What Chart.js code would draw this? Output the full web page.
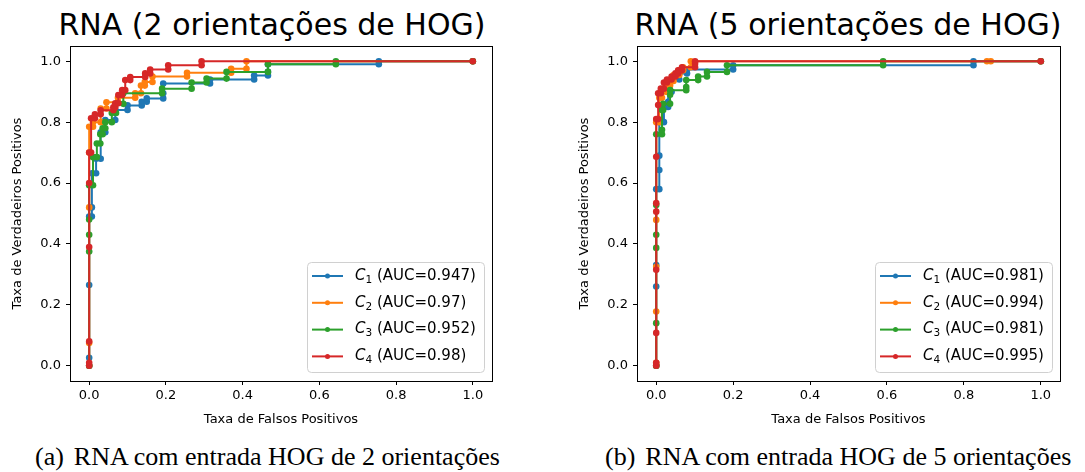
<!DOCTYPE html>
<html>
<head>
<meta charset="utf-8">
<script src="https://cdn.jsdelivr.net/npm/chart.js@4.4.0/dist/chart.umd.min.js"></script>
<style>
  body { margin: 0; background: #fff; width: 1085px; height: 472px; overflow: hidden; position: relative; }
  .box { position: absolute; top: 0; height: 430px; }
  .title { position: absolute; top: 10px; font: 30px/1 "DejaVu Sans"; color: #000; white-space: nowrap; transform: translateX(-50%); }
  .cap { position: absolute; top: 444px; font: 26px/1 "Liberation Serif"; color: #000; white-space: nowrap; }
  .cap span { margin-right: 10px; }
</style>
</head>
<body>
<div class="title" style="left:272px">RNA (2 orientações de HOG)</div>
<div class="title" style="left:848px">RNA (5 orientações de HOG)</div>
<div class="box" style="left:0;width:540px"><canvas id="chartA"></canvas></div>
<div class="box" style="left:567px;width:518px"><canvas id="chartB"></canvas></div>
<div class="cap" style="left:35px"><span>(a)</span>RNA com entrada HOG de 2 orientações</div>
<div class="cap" style="left:605px"><span>(b)</span>RNA com entrada HOG de 5 orientações</div>
<script>
// Class labels, colours and axis ticks
const classDigits = ['1', '2', '3', '4'];
const colors = ['#1f77b4', '#ff7f0e', '#2ca02c', '#d62728'];
const tickValues = [0.0, 0.2, 0.4, 0.6, 0.8, 1.0];

// (a) 2 orientations
const aucA = ['0.947', '0.97', '0.952', '0.98'];
const fprA1 = [0,0,0,0,0.007,0.007,0.007,0.018,0.018,0.03,0.03,0.042,0.042,0.068,0.068,0.1,0.1,0.137,0.137,0.15,0.15,0.193,0.193,0.193,0.315,0.315,0.43,0.43,0.466,0.466,0.466,0.755,0.755,1];
const tprA1 = [0,0.026,0.265,0.49,0.49,0.52,0.632,0.632,0.68,0.68,0.767,0.767,0.807,0.807,0.84,0.84,0.855,0.855,0.867,0.867,0.878,0.878,0.895,0.927,0.927,0.94,0.94,0.953,0.953,0.965,0.99,0.99,1,1];
const fprA2 = [0,0,0,0,0,0.01,0.01,0.03,0.03,0.045,0.045,0.075,0.075,0.12,0.12,0.135,0.135,0.145,0.145,0.165,0.165,0.255,0.255,0.37,0.37,0.41,0.41,1];
const tprA2 = [0,0.075,0.52,0.7,0.785,0.785,0.8,0.8,0.845,0.845,0.865,0.865,0.88,0.88,0.895,0.895,0.92,0.92,0.932,0.932,0.95,0.95,0.962,0.962,0.975,0.975,1,1];
const fprA3 = [0,0,0,0,0,0.01,0.01,0.02,0.02,0.029,0.029,0.035,0.035,0.042,0.042,0.059,0.059,0.07,0.07,0.089,0.089,0.19,0.19,0.267,0.267,0.306,0.306,0.358,0.358,0.466,0.466,0.643,0.643,1];
const tprA3 = [0,0.375,0.43,0.48,0.593,0.593,0.685,0.685,0.73,0.73,0.76,0.76,0.78,0.78,0.8,0.8,0.83,0.83,0.86,0.86,0.895,0.895,0.91,0.91,0.93,0.93,0.943,0.943,0.965,0.965,0.99,0.99,1,1];
const fprA4 = [0,0,0,0,0,0,0.005,0.005,0.015,0.015,0.03,0.03,0.063,0.063,0.068,0.068,0.076,0.076,0.086,0.086,0.094,0.094,0.107,0.107,0.146,0.146,0.159,0.159,0.206,0.206,0.293,0.293,1];
const tprA4 = [0,0.01,0.08,0.39,0.6,0.7,0.7,0.813,0.813,0.826,0.826,0.839,0.839,0.849,0.849,0.862,0.862,0.889,0.889,0.905,0.905,0.938,0.938,0.948,0.948,0.96,0.96,0.973,0.973,0.987,0.987,1,1];

// (b) 5 orientations
const aucB = ['0.981', '0.994', '0.981', '0.995'];
const fprB1 = [0,0,0,0,0.008,0.008,0.008,0.008,0.02,0.02,0.031,0.031,0.031,0.04,0.04,0.06,0.06,0.08,0.08,0.2,0.2,0.825,0.825,1];
const tprB1 = [0,0.26,0.331,0.58,0.58,0.643,0.69,0.8,0.8,0.85,0.85,0.867,0.9,0.9,0.94,0.94,0.96,0.96,0.973,0.973,0.987,0.987,1,1];
const fprB2 = [0,0,0,0,0,0,0.008,0.008,0.015,0.015,0.025,0.025,0.036,0.036,0.045,0.045,0.06,0.06,0.07,0.07,0.09,0.09,0.86,0.87,1];
const tprB2 = [0,0.01,0.178,0.325,0.479,0.8,0.8,0.88,0.88,0.9,0.9,0.92,0.92,0.935,0.935,0.955,0.955,0.97,0.97,0.98,0.98,1,1,1,1];
const fprB3 = [0,0,0,0,0,0,0.015,0.015,0.015,0.018,0.018,0.036,0.036,0.036,0.078,0.078,0.078,0.109,0.109,0.132,0.132,0.184,0.184,0.59,0.59,1];
const tprB3 = [0,0.14,0.387,0.43,0.528,0.76,0.76,0.775,0.84,0.84,0.86,0.86,0.89,0.905,0.905,0.915,0.938,0.938,0.95,0.95,0.965,0.965,0.987,0.987,1,1];
const fprB4 = [0,0,0,0,0,0,0,0,0.005,0.005,0.005,0.012,0.012,0.02,0.02,0.028,0.028,0.04,0.04,0.05,0.05,0.057,0.057,0.067,0.067,0.101,0.101,0.101,1];
const tprB4 = [0,0.01,0.108,0.315,0.506,0.534,0.686,0.81,0.81,0.856,0.895,0.895,0.91,0.91,0.93,0.93,0.94,0.94,0.95,0.95,0.96,0.96,0.97,0.97,0.98,0.98,0.992,1,1];

const FONT = 'DejaVu Sans';

// Frame around the axes plus a matplotlib-like legend
const rocPlugin = {
    id: 'rocLegend',
    afterDraw(chart, args, opts) {
        const ctx = chart.ctx;
        const a = chart.chartArea;
        ctx.save();
        ctx.strokeStyle = '#000';
        ctx.lineWidth = 1;
        ctx.strokeRect(Math.round(a.left) + 0.5, Math.round(a.top) + 0.5,
            Math.round(a.right - a.left), Math.round(a.bottom - a.top));

        const w = 177, h = 110;
        const bx = a.right - 8 - w, by = a.bottom - 9 - h;
        ctx.beginPath();
        ctx.roundRect(bx + 0.5, by + 0.5, w, h, 4);
        ctx.fillStyle = 'rgba(255,255,255,0.8)';
        ctx.fill();
        ctx.strokeStyle = '#d0d0d0';
        ctx.stroke();

        opts.aucs.forEach((auc, i) => {
            const y = by + 14 + i * 26.8;
            ctx.strokeStyle = colors[i];
            ctx.lineWidth = 2;
            ctx.beginPath();
            ctx.moveTo(bx + 5, y);
            ctx.lineTo(bx + 36, y);
            ctx.stroke();
            ctx.fillStyle = colors[i];
            ctx.beginPath();
            ctx.arc(bx + 20.5, y, 2.5, 0, Math.PI * 2);
            ctx.fill();

            ctx.fillStyle = '#000';
            ctx.textBaseline = 'middle';
            let x = bx + 48;
            ctx.font = 'italic 15px "' + FONT + '"';
            ctx.fillText('C', x, y);
            x += ctx.measureText('C').width;
            ctx.font = '10.5px "' + FONT + '"';
            ctx.fillText(classDigits[i], x, y + 4);
            x += ctx.measureText(classDigits[i]).width;
            ctx.font = '15px "' + FONT + '"';
            ctx.fillText(' (AUC=' + auc + ')', x, y);
        });
        ctx.restore();
    }
};

function makeChart(id, fprs, tprs, aucs, padRight) {
    const datasets = fprs.map((fpr, i) => ({
        label: 'C' + classDigits[i],
        data: fpr.map((x, j) => ({ x: x, y: tprs[i][j] })),
        borderColor: colors[i],
        backgroundColor: colors[i],
        borderWidth: 2,
        pointRadius: 3.3,
        pointBorderWidth: 0,
        pointHoverRadius: 3.3,
        tension: 0,
        order: 4 - i
    }));

    const tickFont = { family: FONT, size: 13 };
    return new Chart(document.getElementById(id), {
        type: 'line',
        data: { datasets: datasets },
        options: {
            responsive: true,
            maintainAspectRatio: false,
            animation: false,
            layout: { padding: { left: 0, right: padRight, top: 46, bottom: 0 } },
            plugins: {
                legend: { display: false },
                tooltip: { enabled: false },
                rocLegend: { aucs: aucs }
            },
            scales: {
                x: {
                    type: 'linear',
                    min: -0.05,
                    max: 1.05,
                    afterBuildTicks: s => { s.ticks = tickValues.map(v => ({ value: v })); },
                    afterFit: s => { s.height = 49; },
                    grid: { display: true, drawOnChartArea: false, drawTicks: true, tickLength: 4, color: '#000' },
                    border: { display: false },
                    ticks: { color: '#000', font: tickFont, padding: 3, maxRotation: 0, callback: v => v.toFixed(1) },
                    title: { display: true, text: 'Taxa de Falsos Positivos', color: '#000', font: tickFont, padding: { top: 0, bottom: 3 } }
                },
                y: {
                    type: 'linear',
                    min: -0.05,
                    max: 1.05,
                    afterBuildTicks: s => { s.ticks = tickValues.map(v => ({ value: v })); },
                    afterFit: s => { s.width = 70; },
                    grid: { display: true, drawOnChartArea: false, drawTicks: true, tickLength: 4, color: '#000' },
                    border: { display: false },
                    ticks: { color: '#000', font: tickFont, padding: 5, callback: v => v.toFixed(1) },
                    title: { display: true, text: 'Taxa de Verdadeiros Positivos', color: '#000', font: tickFont, padding: { top: 10, bottom: 0 } }
                }
            }
        },
        plugins: [rocPlugin]
    });
}

makeChart('chartA', [fprA1, fprA2, fprA3, fprA4], [tprA1, tprA2, tprA3, tprA4], aucA, 48);
makeChart('chartB', [fprB1, fprB2, fprB3, fprB4], [tprB1, tprB2, tprB3, tprB4], aucB, 25);
</script>
</body>
</html>
